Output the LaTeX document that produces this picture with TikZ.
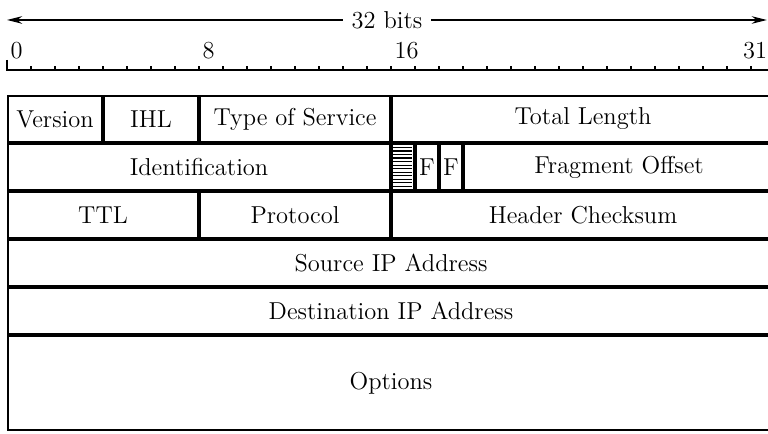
\documentclass[tikz,border=0pt]{standalone}
\usetikzlibrary{arrows.meta}

\begin{document}
\begin{tikzpicture}[
    field/.style={draw, line width=1.1pt, minimum height=1cm-1.1pt, inner sep=0pt, font=\fontsize{14.5}{17}\selectfont},
    bits/.style={minimum width=#1*0.5cm-1.1pt},
    tall/.style={minimum height=2cm-1.1pt},
    rule/.style={line width=0.8pt},
    arr/.style={{Stealth[length=9pt,width=4.5pt]}-{Stealth[length=9pt,width=4.5pt]}, line width=0.8pt},
    lbl/.style={font=\fontsize{14.5}{17}\selectfont, inner sep=2pt},
    hatch/.style={path picture={
        \foreach \k in {1,...,12}
          \draw[line width=0.7pt] ([yshift=-\k*2.1pt]path picture bounding box.north west)
            -- ([yshift=-\k*2.1pt, xshift=-1.5pt]path picture bounding box.north east);}}
]
\useasboundingbox (-0.146,-7.0625) rectangle (15.854,1.979);

% bit ruler
\draw[rule] (0,0.73) -- (0,0.52) -- (15.9,0.52);
\foreach \b in {1,...,31}
  \draw[rule] (\b*0.5,0.52) -- ++(0,0.08);
\foreach \b in {0,8,16}
  \node[lbl, anchor=base west] (t\b) at (\b*0.5,0.77) {\b};
\node[lbl, anchor=base east, inner sep=0.3pt] (t31) at (15.854,0.77) {31};

% width arrow
\coordinate (wl) at (0,1.5625);
\coordinate (wr) at (15.83,1.5625);
\draw[arr] (wl) -- node[lbl, fill=white, inner sep=5pt] (w) {32 bits} (wr);

% header fields
\node[field, bits=4] (ver) at (1,-0.5) {Version};
\node[field, bits=4] (ihl) at (3,-0.5) {IHL};
\node[field, bits=8] (tos) at (6,-0.5) {Type of Service};
\node[field, bits=16] (len) at (12,-0.5) {Total Length};

\node[field, bits=16] (id) at (4,-1.5) {Identification};
\node[field, bits=1, hatch] (rsv) at (8.25,-1.5) {};
\node[field, bits=1] (df) at (8.75,-1.5) {F};
\node[field, bits=1] (mf) at (9.25,-1.5) {F};
\node[field, bits=13] (frag) at (12.75,-1.5) {Fragment Offset};

\node[field, bits=8] (ttl) at (2,-2.5) {TTL};
\node[field, bits=8] (proto) at (6,-2.5) {Protocol};
\node[field, bits=16] (csum) at (12,-2.5) {Header Checksum};

\node[field, bits=32] (src) at (8,-3.5) {Source IP Address};
\node[field, bits=32] (dst) at (8,-4.5) {Destination IP Address};
\node[field, bits=32, tall] (opt) at (8,-6) {Options};
\end{tikzpicture}
\end{document}
